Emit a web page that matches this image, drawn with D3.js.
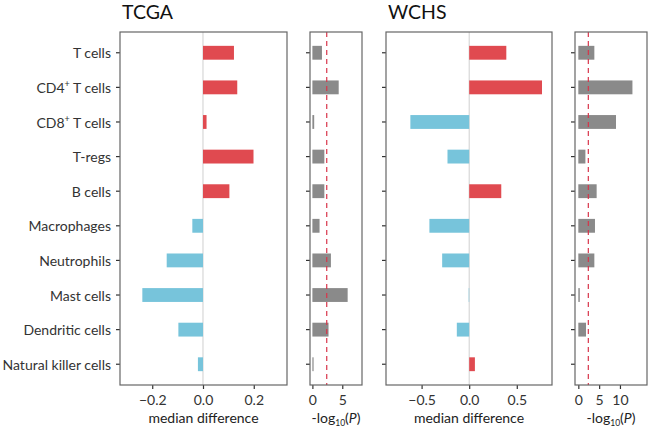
<!DOCTYPE html>
<html>
<head>
<meta charset="utf-8">
<script src="https://cdn.jsdelivr.net/npm/d3@7"></script>
<style>
  body { margin: 0; background: #fff; }
  svg { font-family: Lato, "Open Sans", sans-serif; }
</style>
</head>
<body>
<svg id="chart" width="650" height="432"></svg>
<script>
// ---- data ----
const categories = ["T cells", "CD4+ T cells", "CD8+ T cells", "T-regs", "B cells",
  "Macrophages", "Neutrophils", "Mast cells", "Dendritic cells", "Natural killer cells"];
const tcgaMedianDiff = [0.122, 0.135, 0.014, 0.199, 0.104, -0.042, -0.143, -0.239, -0.097, -0.020];
const tcgaLogP = [1.6, 4.4, 0.3, 2.0, 2.0, 1.2, 3.1, 5.9, 2.7, 0.2];
const wchsMedianDiff = [0.39, 0.765, -0.618, -0.228, 0.337, -0.418, -0.284, -0.005, -0.13, 0.06];
const wchsLogP = [3.85, 13.0, 9.05, 1.7, 4.4, 4.0, 3.85, 0.35, 1.85, 0.0];
const threshold = 2.4;
const diffTicksTcga = [-0.2, 0.0, 0.2];
const diffTicksWchs = [-0.5, 0.0, 0.5];
const logTicksTcga = [0, 5];
const logTicksWchs = [0, 5, 10];
const titles = ["TCGA", "WCHS"];

// ---- layout ----
const svg = d3.select("#chart");
const yTop = 32, yBottom = 385;
const red = "#E04A50", blue = "#77C4DB", grey = "#8A8A8A";
const FS = 14;

// ggplot-like discrete axis: 0.6 expansion each side
const yStep = (yBottom - yTop) / (categories.length + 0.2);
const y = d3.scalePoint().domain(categories)
  .range([yTop + 0.6 * yStep, yBottom - 0.6 * yStep]);
const barH = yStep * 0.4;

function drawFrame(g, x0, x1, x, ticks, fmt, showLabels, xlabel) {
  const yAxisG = g.append("g");
  categories.forEach((c) => {
    yAxisG.append("line").attr("x1", x0 - 4).attr("x2", x0)
      .attr("y1", y(c)).attr("y2", y(c))
      .attr("stroke", "#333").attr("stroke-width", 1.2);
    if (showLabels) {
      const t = yAxisG.append("text").attr("x", x0 - 9).attr("y", y(c))
        .attr("text-anchor", "end").attr("dominant-baseline", "central")
        .attr("font-size", FS).attr("fill", "#333");
      if (c.includes("+")) {
        const parts = c.split("+");
        t.append("tspan").text(parts[0]);
        t.append("tspan").text("+").attr("font-size", 9).attr("dy", -4);
        t.append("tspan").text(parts[1]).attr("dy", 4);
      } else {
        t.text(c);
      }
    }
  });
  const xa = d3.axisBottom(x).tickValues(ticks).tickFormat(fmt).tickSize(4).tickSizeOuter(0);
  const ag = g.append("g").attr("transform", `translate(0,${yBottom})`).call(xa);
  ag.select(".domain").remove();
  ag.selectAll(".tick line").attr("stroke", "#333").attr("stroke-width", 1.2);
  ag.selectAll(".tick text").attr("font-size", FS).attr("fill", "#333")
    .attr("font-family", "Lato, sans-serif").attr("dy", "0.9em");
  g.append("rect").attr("x", x0).attr("y", yTop).attr("width", x1 - x0).attr("height", yBottom - yTop)
    .attr("fill", "none").attr("stroke", "#666").attr("stroke-width", 1.2);
  const lab = g.append("text").attr("x", (x0 + x1) / 2).attr("y", 423)
    .attr("text-anchor", "middle").attr("font-size", FS).attr("fill", "#222");
  if (xlabel === "log") {
    lab.append("tspan").text("-log");
    lab.append("tspan").text("10").attr("font-size", 8.5).attr("dy", 3);
    lab.append("tspan").text("(").attr("dy", -3);
    lab.append("tspan").text("P").attr("font-style", "italic");
    lab.append("tspan").text(")");
  } else {
    lab.text(xlabel);
  }
}

function diffPanel(x0, x1, domain, vals, ticks, showLabels, title) {
  const x = d3.scaleLinear().domain(domain).range([x0, x1]);
  const g = svg.append("g");
  g.append("line").attr("x1", x(0)).attr("x2", x(0)).attr("y1", yTop).attr("y2", yBottom)
    .attr("stroke", "#CFCFCF").attr("stroke-width", 1);
  g.selectAll("rect.bar").data(vals).join("rect").attr("class", "bar")
    .attr("x", d => Math.min(x(0), x(d)))
    .attr("width", d => Math.abs(x(d) - x(0)))
    .attr("y", (d, i) => y(categories[i]) - barH / 2)
    .attr("height", barH)
    .attr("fill", d => d >= 0 ? red : blue);
  drawFrame(g, x0, x1, x, ticks, d3.format(".1f"), showLabels, "median difference");
  svg.append("text").attr("x", x0 + 2).attr("y", 19).attr("font-size", 19.5).attr("fill", "#111").text(title);
}

function logPanel(x0, x1, domain, vals, ticks) {
  const x = d3.scaleLinear().domain(domain).range([x0, x1]);
  const g = svg.append("g");
  g.selectAll("rect.bar").data(vals).join("rect").attr("class", "bar")
    .attr("x", x(0))
    .attr("width", d => Math.max(0, x(d) - x(0)))
    .attr("y", (d, i) => y(categories[i]) - barH / 2)
    .attr("height", barH)
    .attr("fill", grey);
  g.append("line").attr("x1", x(threshold)).attr("x2", x(threshold)).attr("y1", yTop).attr("y2", yBottom)
    .attr("stroke", "#D8344A").attr("stroke-width", 1.2).attr("stroke-dasharray", "5,4");
  drawFrame(g, x0, x1, x, ticks, d3.format("d"), false, "log");
}

diffPanel(120, 287, [-0.327, 0.331], tcgaMedianDiff, diffTicksTcga, true, titles[0]);
logPanel(310, 362, [-0.4, 8.3], tcgaLogP, logTicksTcga);
diffPanel(386, 552, [-0.874, 0.87], wchsMedianDiff, diffTicksWchs, false, titles[1]);
logPanel(575, 647, [-0.8, 16.5], wchsLogP, logTicksWchs);
</script>
</body>
</html>
